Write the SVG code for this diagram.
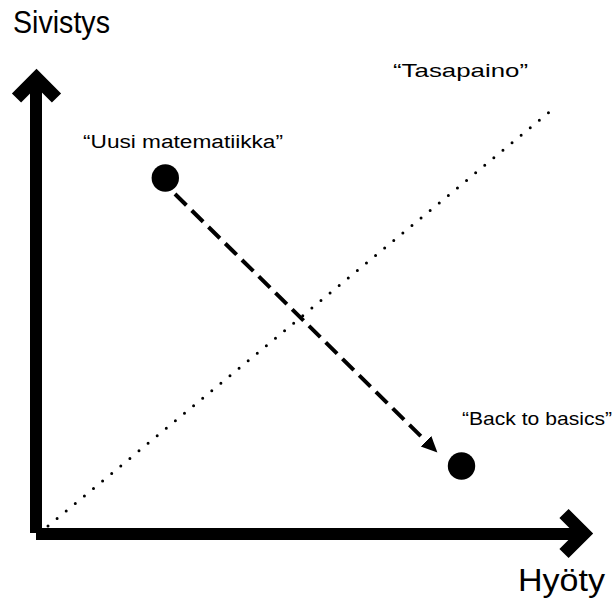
<svg xmlns="http://www.w3.org/2000/svg" width="613" height="602" viewBox="0 0 613 602">
  <style>
    .lbl { font-family: "Liberation Sans", Arial, sans-serif; fill: #000; }
    .axis { stroke: #000; fill: none; }
    .dot { fill: #000; }
  </style>
  <defs>
    <marker id="arrowhead" markerUnits="userSpaceOnUse" markerWidth="18" markerHeight="16" refX="0" refY="7.5" orient="auto">
      <path d="M0,0 L16,7.5 L0,15 z" fill="#000"/>
    </marker>
  </defs>
  <rect width="613" height="602" fill="#fff"/>

  <g id="axes">
    <line class="axis" x1="36" y1="533" x2="36" y2="82" stroke-width="12"/>
    <polyline class="axis" points="16.5,98 36.5,78 56.5,98" stroke-width="13" stroke-linejoin="miter"/>
    <line class="axis" x1="36" y1="534" x2="586" y2="534" stroke-width="12"/>
    <polyline class="axis" points="564,513.5 584,533.5 564,553.5" stroke-width="13" stroke-linejoin="miter"/>
    <text class="lbl" x="13" y="33" font-size="31" textLength="97" lengthAdjust="spacingAndGlyphs">Sivistys</text>
    <text class="lbl" x="518" y="591" font-size="31" textLength="87" lengthAdjust="spacingAndGlyphs">Hyöty</text>
  </g>

  <g id="balance">
    <line x1="48" y1="526" x2="557" y2="105.7" stroke="#000" stroke-width="3" stroke-linecap="round" stroke-dasharray="0 11.8"/>
    <text class="lbl" x="393" y="77" font-size="19" textLength="135" lengthAdjust="spacingAndGlyphs">“Tasapaino”</text>
  </g>

  <g id="connectors">
    <line x1="175" y1="194" x2="426" y2="441.2" stroke="#000" stroke-width="4" stroke-dasharray="16 7.5" marker-end="url(#arrowhead)"/>
  </g>

  <g id="node-uusi">
    <circle class="dot" cx="165.3" cy="178" r="13.7"/>
    <text class="lbl" x="83" y="148" font-size="18" textLength="200" lengthAdjust="spacingAndGlyphs">“Uusi matematiikka”</text>
  </g>

  <g id="node-back">
    <circle class="dot" cx="461.5" cy="466" r="13.7"/>
    <text class="lbl" x="462" y="425" font-size="19" textLength="150" lengthAdjust="spacingAndGlyphs">“Back to basics”</text>
  </g>
</svg>
